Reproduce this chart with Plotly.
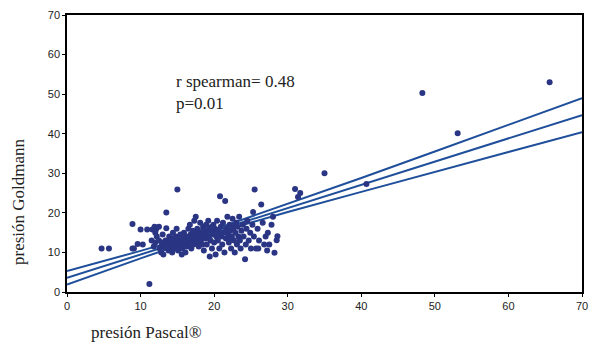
import plotly.graph_objects as go

# Scatter data: presión Pascal (x) vs presión Goldmann (y)
pascal = [4.7, 5.7, 8.9, 8.9, 9.1, 9.6, 10.0, 10.3, 10.9, 11.2, 11.6, 12.1, 12.0, 11.9,
          12.5, 11.5, 11.8, 12.0, 12.2, 12.5, 12.6, 12.8, 12.9, 13.0, 13.1, 13.2, 13.4,
          13.5, 13.5, 13.7, 13.8, 13.9, 14.0, 14.1, 14.2, 14.3, 14.4, 14.5, 14.6, 14.7,
          14.8, 14.9, 15.0, 15.0, 15.1, 15.2, 15.3, 15.4, 15.5, 15.6, 15.7, 15.8, 15.9,
          16.0, 16.1, 16.2, 16.3, 16.4, 16.5, 16.6, 16.7, 16.8, 16.9, 17.0, 17.1, 17.2,
          17.3, 17.4, 17.5, 17.6, 17.7, 17.8, 17.9, 18.0, 18.1, 18.2, 18.3, 18.4, 18.5,
          18.6, 18.7, 18.8, 18.9, 19.0, 19.1, 19.2, 19.3, 19.4, 19.5, 19.6, 19.7, 19.8,
          19.9, 20.0, 20.1, 20.2, 20.3, 20.4, 20.5, 20.6, 20.8, 20.7, 20.9, 21.0, 21.1,
          21.2, 21.3, 21.5, 21.4, 21.6, 21.7, 21.8, 21.9, 22.0, 22.1, 22.2, 22.3, 22.4,
          22.5, 22.6, 22.7, 22.8, 22.9, 23.0, 23.1, 23.2, 23.3, 23.4, 23.5, 23.6, 23.7,
          23.9, 24.0, 24.2, 24.3, 24.4, 24.5, 24.7, 24.9, 25.0, 25.3, 25.5, 25.2, 25.4,
          25.7, 25.9, 26.1, 26.4, 26.6, 26.8, 27.0, 27.3, 27.5, 27.8, 28.2, 28.5, 28.6,
          28.0, 26.0, 27.2, 31.0, 31.7, 31.4, 35.0, 40.7, 48.3, 53.1, 65.6,
          13.0, 14.0, 15.0, 16.0, 17.0, 18.0, 19.0, 14.5, 15.5, 16.5, 17.5, 18.5, 13.3,
          16.8, 17.2, 18.2, 19.6, 20.4, 21.6, 22.8, 14.2, 15.8, 17.8, 19.3, 20.6, 22.2]
goldmann = [11.0, 11.0, 17.2, 11.0, 11.0, 12.1, 15.8, 12.0, 15.8, 2.0, 15.8, 15.8, 15.0, 16.5,
            16.5, 13.0, 11.5, 12.5, 14.0, 13.0, 11.0, 10.0, 12.0, 14.5, 9.5, 11.5, 13.0,
            16.1, 20.1, 12.0, 10.5, 14.0, 11.0, 12.5, 13.5, 10.0, 15.0, 12.0, 11.0, 13.0,
            14.0, 16.0, 25.9, 12.0, 10.5, 11.5, 13.0, 14.5, 12.0, 9.5, 11.0, 13.5, 15.0,
            12.5, 10.0, 14.0, 11.5, 13.0, 16.0, 12.0, 17.0, 14.5, 11.0, 13.0, 15.5, 12.0,
            18.0, 14.0, 19.0, 12.5, 16.0, 13.5, 11.5, 15.0, 17.5, 13.0, 14.5, 12.0, 16.5,
            10.5, 15.0, 13.5, 17.0, 12.0, 14.0, 18.0, 16.0, 9.0, 13.0, 15.5, 11.0, 14.5,
            17.0, 12.5, 16.0, 9.5, 14.0, 18.0, 13.0, 15.0, 24.2, 11.0, 16.5, 14.0, 12.0,
            17.5, 15.0, 23.0, 10.0, 13.5, 16.0, 19.0, 14.5, 12.5, 17.0, 15.5, 11.0, 14.0,
            18.5, 16.0, 13.0, 10.0, 15.0, 17.5, 12.0, 16.5, 14.0, 19.0, 13.0, 11.0, 15.5,
            17.0, 14.0, 8.3, 12.0, 16.0, 18.0, 13.0, 15.0, 11.0, 20.2, 25.9, 17.0, 14.0,
            11.0, 16.0, 13.0, 22.1, 17.5, 12.0, 14.0, 15.0, 12.0, 17.0, 9.9, 13.1, 14.1,
            19.0, 11.0, 10.5, 26.0, 25.0, 24.0, 30.0, 27.3, 50.3, 40.1, 53.0,
            12.5, 12.8, 13.5, 13.2, 14.2, 14.0, 15.2, 11.8, 12.4, 13.8, 14.8, 15.8, 11.2,
            12.2, 13.8, 14.6, 16.4, 15.6, 15.2, 16.8, 13.2, 11.6, 12.8, 13.6, 14.6, 13.4]

# Regression line and its confidence band
fit_x = [0, 10, 20, 30, 40, 50, 60, 70]
fit_y = [3.6, 9.5, 15.3, 21.2, 27.1, 33.0, 38.8, 44.7]
upper_y = [5.3, 10.4, 15.8, 22.2, 28.8, 35.5, 42.2, 49.0]
lower_y = [1.9, 8.5, 14.9, 20.2, 25.3, 30.4, 35.4, 40.4]

line_color = "#1f4f9a"
dot_color = "#2a3584"

fig = go.Figure()
for ys in (upper_y, fit_y, lower_y):
    fig.add_trace(go.Scatter(x=fit_x, y=ys, mode="lines",
                             line=dict(color=line_color, width=2), hoverinfo="skip"))
fig.add_trace(go.Scatter(x=pascal, y=goldmann, mode="markers",
                         marker=dict(color=dot_color, size=6)))

axis_common = dict(range=[0, 70], dtick=10, showline=True, linecolor="black", linewidth=1.5,
                   mirror=True, ticks="outside", ticklen=3, tickcolor="black", showgrid=False,
                   zeroline=False, ticklabeloverflow="allow", automargin=False,
                   tickfont=dict(family="Liberation Sans, Arial", size=11, color="#222"))

L, R, T, B = 67, 9, 15, 50
plot_h = 342 - T - B
plot_w = 591 - L - R

fig.update_layout(
    width=591, height=342,
    margin=dict(l=L, r=R, t=T, b=B),
    paper_bgcolor="white", plot_bgcolor="white",
    showlegend=False,
    xaxis=axis_common,
    yaxis=axis_common,
    annotations=[
        dict(text="r spearman= 0.48<br>p=0.01", x=14.5, y=50.5, xref="x", yref="y",
             xanchor="left", yanchor="middle", align="left", showarrow=False,
             font=dict(family="Liberation Serif, Times New Roman", size=17, color="#222")),
        dict(text="presión Goldmann", x=(18 - L) / plot_w, y=(292 - 202) / plot_h,
             xref="paper", yref="paper", xanchor="center", yanchor="middle",
             showarrow=False, textangle=-90,
             font=dict(family="Liberation Serif, Times New Roman", size=17, color="#222")),
        dict(text="presión Pascal®", x=(146 - L) / plot_w, y=(292 - 333) / plot_h,
             xref="paper", yref="paper", xanchor="center", yanchor="middle",
             showarrow=False,
             font=dict(family="Liberation Serif, Times New Roman", size=17, color="#222")),
    ],
)

fig.write_html("out.html")
